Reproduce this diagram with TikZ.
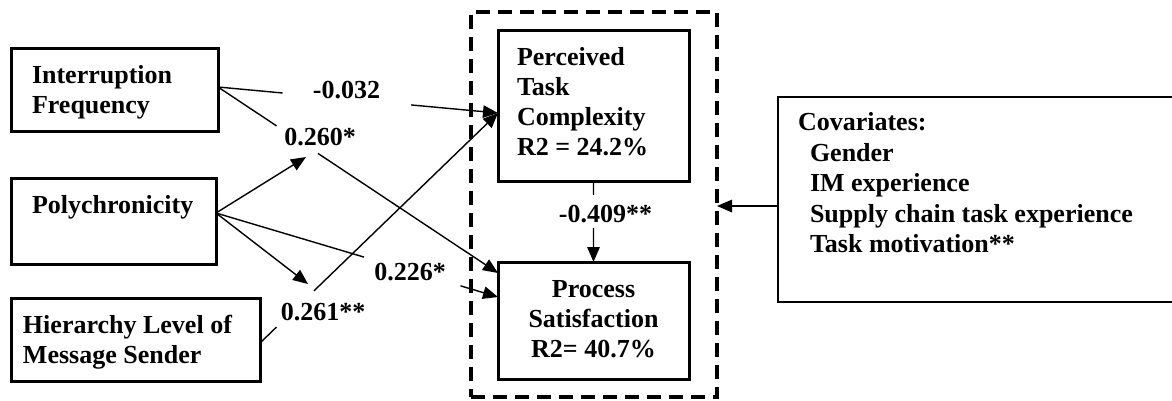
\documentclass[tikz,border=0pt]{standalone}
\usepackage{fontspec}
\setmainfont{Liberation Serif}
\usetikzlibrary{arrows.meta,calc}
\begin{document}
\begin{tikzpicture}[x=1pt,y=-1pt,
  every node/.style={inner sep=0pt, outer sep=0pt},
  rbox/.style={draw, line width=3pt, rectangle, anchor=north west},
  covbox/.style={draw, line width=2pt, rectangle, anchor=north west},
  dashbox/.style={draw, line width=3.5pt, dash pattern=on 14pt off 8pt, rectangle, anchor=north west},
  txt/.style={font=\fontsize{26}{30}\selectfont\bfseries, anchor=north west, align=left},
  lbl/.style={font=\fontsize{26}{30}\selectfont\bfseries, anchor=base},
  conn/.style={line width=1.4pt},
  arr/.style={conn, -{Triangle[length=15pt,width=12.5pt]}}]
\useasboundingbox (0,0) rectangle (1172,400);
% boxes
\node[rbox, minimum width=207pt, minimum height=83pt] (ifb) at (11,48) {};
\node[rbox, minimum width=205pt, minimum height=86pt] (pob) at (11,178) {};
\node[rbox, minimum width=249pt, minimum height=83pt] (hib) at (11,298) {};
\node[rbox, minimum width=191pt, minimum height=151pt] (ptcb) at (498,30) {};
\node[rbox, minimum width=191pt, minimum height=117pt] (psb) at (498,262) {};
\node[covbox, minimum width=410pt, minimum height=205pt] (covb) at (778,97) {};
\node[dashbox, minimum width=246pt, minimum height=385pt] (dbx) at (471,12) {};
% texts
\node[txt] (ift) at (32,62) {\strut Interruption\\Frequency};
\node[txt] (pot) at (32,192) {\strut Polychronicity};
\node[txt] (hit) at (23,312) {\strut Hierarchy Level of\\Message Sender};
\node[txt] (ptct) at (517,44) {\strut Perceived\\Task\\Complexity\\R2 = 24.2\%};
\node[txt, anchor=north, align=center] (pst) at (593.5,276) {\strut Process\\Satisfaction\\R2= 40.7\%};
\node[txt, font=\fontsize{26}{30.5}\selectfont\bfseries] (covt) at (798,109.6)
  {\strut Covariates:\\\hspace*{12pt}Gender\\\hspace*{12pt}IM experience\\\hspace*{12pt}Supply chain task experience\\\hspace*{12pt}Task motivation**};
% labels
\node[lbl] (l032) at (346.5,98) {-0.032};
\node[lbl] (l260) at (320,145) {0.260*};
\node[lbl] (l226) at (410,280) {0.226*};
\node[lbl] (l261) at (323,320) {0.261**};
\node[lbl] (l409) at (605.5,222) {-0.409**};
% connection points
\coordinate (ifo) at ([yshift=2.5pt]ifb.east);
\coordinate (ptcin) at ([yshift=-7.5pt]ptcb.west);
\coordinate (psin1) at ([yshift=-11pt]psb.north west);
\coordinate (psin2) at ([yshift=-35pt]psb.north west);
\coordinate (poo) at ([yshift=8pt]pob.east);
\coordinate (hio) at ([yshift=-3.5pt]hib.east);
\coordinate (covo) at ([yshift=-6.5pt]covb.west);
\coordinate (c260) at (306,157);
\coordinate (c261) at (308,284);
% connectors
\draw[conn] (ifo) -- ($(ifo)!0.231!(ptcin)$);
\draw[arr] ($(ifo)!0.69!(ptcin)$) -- (ptcin);
\draw[conn] (ifo) -- ($(ifo)!0.209!(psin1)$);
\draw[arr] ($(ifo)!0.357!(psin1)$) -- (psin1);
\draw[arr] (poo) -- (c260);
\draw[arr] (poo) -- (c261);
\draw[conn] (poo) -- ($(poo)!0.525!(psin2)$);
\draw[arr] ($(poo)!0.867!(psin2)$) -- (psin2);
\draw[conn] (hio) -- ($(hio)!0.069!(ptcin)$);
\draw[arr] ($(hio)!0.227!(ptcin)$) -- (ptcin);
\draw[conn] (ptcb.south) -- ($(ptcb.south)!0.17!(psb.north)$);
\draw[arr] ($(ptcb.south)!0.58!(psb.north)$) -- (psb.north);
\draw[arr] (covo) -- (dbx.east |- covo);
\end{tikzpicture}
\end{document}
